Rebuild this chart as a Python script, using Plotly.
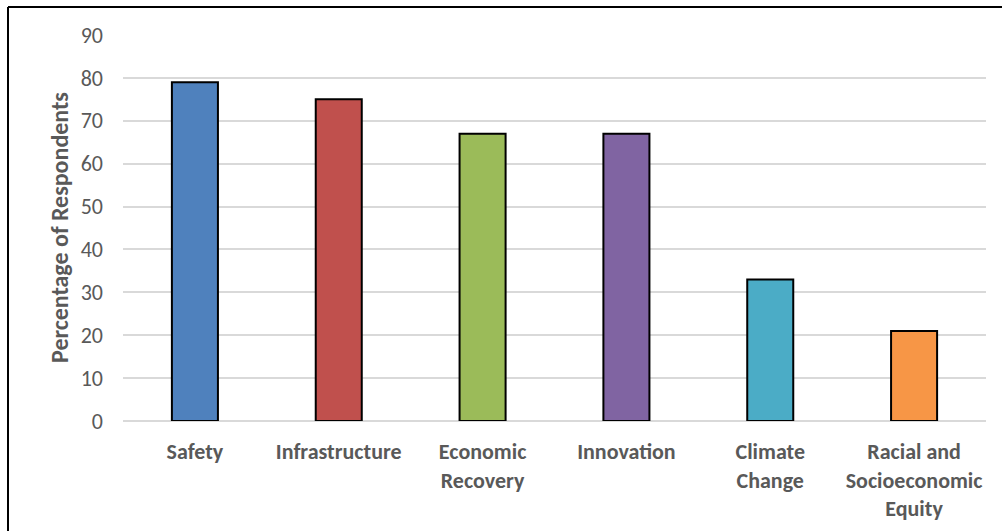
import plotly.graph_objects as go

categories = ["Safety", "Infrastructure", "Economic<br>Recovery", "Innovation",
              "Climate<br>Change", "Racial and<br>Socioeconomic<br>Equity"]
values = [79, 75, 67, 67, 33, 21]
colors = ["#4F81BD", "#C0504D", "#9BBB59", "#8064A2", "#4BACC6", "#F79646"]
y_ticks = [0, 10, 20, 30, 40, 50, 60, 70, 80, 90]

W, H = 1002, 531
L, R, T, B = 123, 16, 35, 110

fig = go.Figure(go.Bar(
    x=categories, y=values,
    marker=dict(color=colors, line=dict(color="black", width=2)),
    width=0.32,
))

font_family = "Carlito, Calibri, Lato, 'Open Sans', sans-serif"

fig.update_layout(
    width=W, height=H,
    margin=dict(l=L, r=R, t=T, b=B, autoexpand=False),
    paper_bgcolor="white", plot_bgcolor="white",
    showlegend=False,
    font=dict(family=font_family, color="#595959"),
    xaxis=dict(
        automargin=False,
        showgrid=False, showline=False, ticks="",
        tickfont=dict(size=22, color="#595959", family=font_family, weight="bold"),
        ticklabelstandoff=15,
    ),
    yaxis=dict(
        automargin=False,
        range=[0, 90], tickvals=y_ticks,
        showgrid=True, gridcolor="#D9D9D9", gridwidth=2,
        zeroline=True, zerolinecolor="#D9D9D9", zerolinewidth=2,
        showline=False, ticks="",
        tickfont=dict(size=22, color="#595959", family=font_family),
        ticklabelstandoff=19,
    ),
    annotations=[dict(
        text="<b>Percentage of Respondents</b>",
        x=(59 - L) / (W - L - R), y=0.5, xref="paper", yref="paper",
        textangle=-90, showarrow=False,
        font=dict(size=24, color="#595959", family=font_family),
        xanchor="center", yanchor="middle",
    )],
    shapes=[
        dict(type="line", xref="paper", yref="paper",
             x0=(8 - L) / (W - L - R), x1=1 + R / (W - L - R) + 0.01,
             y0=1 + (T - 7) / (H - T - B), y1=1 + (T - 7) / (H - T - B),
             line=dict(color="black", width=2)),
        dict(type="line", xref="paper", yref="paper",
             x0=(8 - L) / (W - L - R), x1=(8 - L) / (W - L - R),
             y0=-(B + 5) / (H - T - B), y1=1 + (T - 7) / (H - T - B),
             line=dict(color="black", width=2)),
    ],
)

fig.write_html("out.html")
